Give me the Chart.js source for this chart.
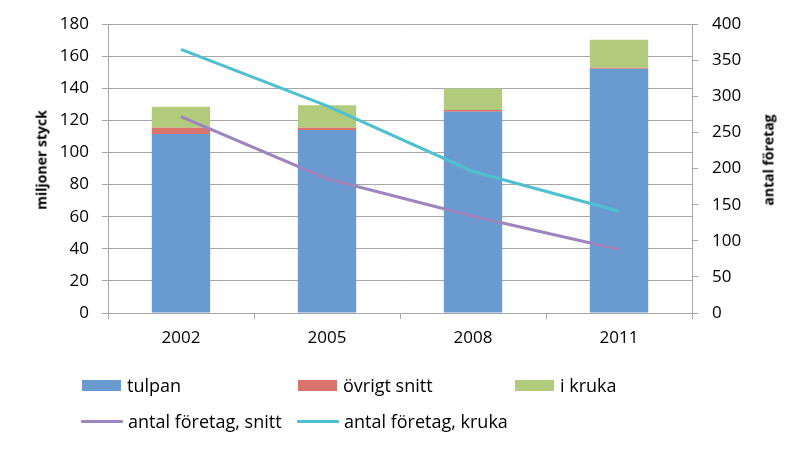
<!DOCTYPE html>
<html>
<head>
<meta charset="utf-8">
<script src="https://cdn.jsdelivr.net/npm/chart.js@4/dist/chart.umd.min.js"></script>
<style>
  html, body { margin: 0; padding: 0; background: #fff; }
  #wrap { position: relative; width: 800px; height: 450px; font-family: "Open Sans", Lato, sans-serif; color: #000; }
  #c { position: absolute; left: 0; top: 0; }
  .ytitle { position: absolute; font-weight: bold; font-size: 14px; white-space: nowrap; transform: translate(-50%, -50%) rotate(-90deg); }
  .leg { position: absolute; font-size: 18px; white-space: nowrap; display: flex; align-items: center; }
  .box { display: inline-block; width: 39px; height: 11px; margin-right: 6px; flex: none; }
  .ln { display: inline-block; width: 42px; height: 3px; margin-right: 5px; border-radius: 1px; flex: none; }
</style>
</head>
<body>
<div id="wrap">
  <canvas id="c" width="800" height="450"></canvas>
  <div class="ytitle" style="left:41px; top:160px;">miljoner styck</div>
  <div class="ytitle" style="left:768px; top:160px;">antal företag</div>
  <div id="legend"></div>
</div>
<script>
const years = ['2002', '2005', '2008', '2011'];
const tulpan = [111.5, 114, 125.4, 152.3];
const ovrigtSnitt = [4, 1.5, 1.2, 0.5];
const iKruka = [13, 14, 13.3, 17.5];
const foretagSnitt = [272, 186, 134, 88];
const foretagKruka = [365, 287, 196, 141];
const leftTicks = [0, 20, 40, 60, 80, 100, 120, 140, 160, 180];
const rightTicks = [0, 50, 100, 150, 200, 250, 300, 350, 400];

const C = {
  blue: '#6A9BD0', red: '#D9736D', green: '#B2CB7C',
  purple: '#9D85BE', cyan: '#4FBFD2', grid: '#A6A6A6'
};
const FONT = { family: '"Open Sans", Lato, sans-serif', size: 17 };

// HTML legend (grid layout like the reference)
const legendItems = [
  { t: 'tulpan', c: C.blue, type: 'box', x: 82, y: 385 },
  { t: 'övrigt snitt', c: C.red, type: 'box', x: 298, y: 385 },
  { t: 'i kruka', c: C.green, type: 'box', x: 515, y: 385 },
  { t: 'antal företag, snitt', c: C.purple, type: 'ln', x: 81, y: 421 },
  { t: 'antal företag, kruka', c: C.cyan, type: 'ln', x: 297, y: 421 }
];
const lg = document.getElementById('legend');
legendItems.forEach(it => {
  const d = document.createElement('div');
  d.className = 'leg';
  d.style.left = it.x + 'px';
  d.style.top = (it.y - 12) + 'px';
  d.style.height = '24px';
  const s = document.createElement('span');
  s.className = it.type;
  s.style.background = it.c;
  d.appendChild(s);
  d.appendChild(document.createTextNode(it.t));
  lg.appendChild(d);
});

new Chart(document.getElementById('c'), {
  data: {
    labels: years,
    datasets: [
      { type: 'line', label: 'antal företag, snitt', data: foretagSnitt, yAxisID: 'y1', borderColor: C.purple, backgroundColor: C.purple, borderWidth: 3, pointRadius: 0, tension: 0, order: 0 },
      { type: 'line', label: 'antal företag, kruka', data: foretagKruka, yAxisID: 'y1', borderColor: C.cyan, backgroundColor: C.cyan, borderWidth: 3, pointRadius: 0, tension: 0, order: 0 },
      { type: 'bar', label: 'tulpan', data: tulpan, backgroundColor: C.blue, stack: 's', yAxisID: 'y', order: 1 },
      { type: 'bar', label: 'övrigt snitt', data: ovrigtSnitt, backgroundColor: C.red, stack: 's', yAxisID: 'y', order: 1 },
      { type: 'bar', label: 'i kruka', data: iKruka, backgroundColor: C.green, stack: 's', yAxisID: 'y', order: 1 }
    ]
  },
  options: {
    responsive: false,
    animation: false,
    layout: { padding: { left: 0, right: 0, top: 23, bottom: 97 } },
    datasets: { bar: { barPercentage: 0.4, categoryPercentage: 1 } },
    plugins: { legend: { display: false }, tooltip: { enabled: false } },
    scales: {
      x: {
        stacked: true,
        offset: true,
        afterFit: s => { s.height = 40; },
        grid: { offset: true, drawOnChartArea: false, drawTicks: true, tickLength: 6, color: C.grid },
        border: { color: C.grid },
        ticks: { font: FONT, color: '#000', padding: 9, maxRotation: 0 }
      },
      y: {
        stacked: true,
        position: 'left',
        min: 0, max: 180,
        afterFit: s => { s.width = 108; },
        afterBuildTicks: s => { s.ticks = leftTicks.map(v => ({ value: v })); },
        grid: { color: C.grid, tickLength: 6, drawTicks: true },
        border: { color: C.grid },
        ticks: { font: FONT, color: '#000', padding: 13 }
      },
      y1: {
        position: 'right',
        min: 0, max: 400,
        afterFit: s => { s.width = 108; },
        afterBuildTicks: s => { s.ticks = rightTicks.map(v => ({ value: v })); },
        grid: { drawOnChartArea: false, color: C.grid, tickLength: 6, drawTicks: true },
        border: { color: C.grid },
        ticks: { font: FONT, color: '#000', padding: 14 }
      }
    }
  }
});
</script>
</body>
</html>
